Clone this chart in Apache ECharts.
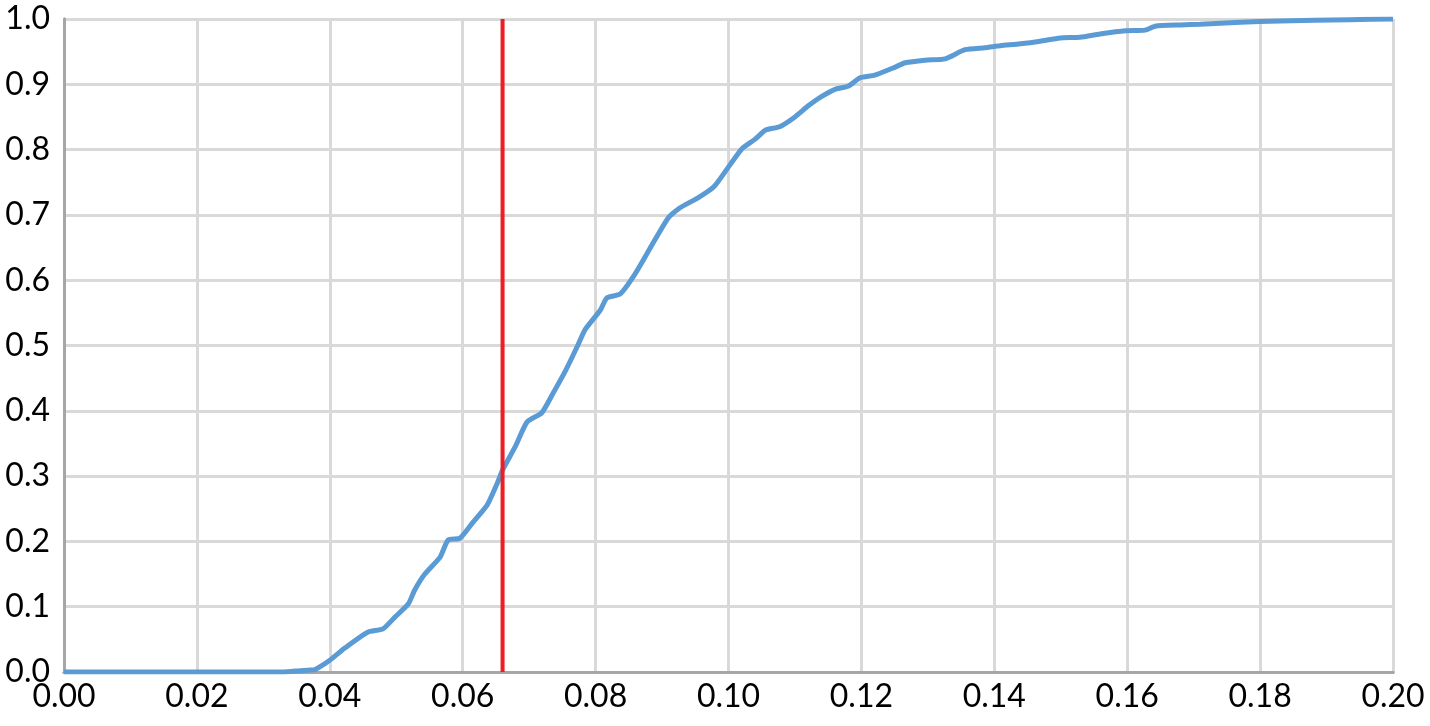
<!DOCTYPE html>
<html>
<head>
<meta charset="utf-8">
<script src="https://cdn.jsdelivr.net/npm/echarts@6/dist/echarts.min.js"></script>
<style>
html, body { margin: 0; padding: 0; background: #fff; }
#main { width: 1430px; height: 726px; }
</style>
</head>
<body>
<div id="main"></div>
<script>
// curve
var xVals = [0, 0.02, 0.033, 0.0355, 0.037, 0.0378, 0.040, 0.0423, 0.0457, 0.048, 0.0498,
    0.0518, 0.0528, 0.0543, 0.0566, 0.0578, 0.0596, 0.0616, 0.0637, 0.0652, 0.066, 0.0679,
    0.0697, 0.0719, 0.0736, 0.0755, 0.0774, 0.0784, 0.0807, 0.0817, 0.0837, 0.0859, 0.0882,
    0.0909, 0.0927, 0.0954, 0.0978, 0.0999, 0.102, 0.104, 0.1056, 0.1077, 0.110, 0.112,
    0.1138, 0.1162, 0.118, 0.1198, 0.122, 0.125, 0.1266, 0.1296, 0.1326, 0.1356, 0.1386,
    0.1409, 0.1439, 0.1469, 0.1499, 0.1529, 0.1559, 0.1597, 0.1627, 0.1642, 0.168, 0.171,
    0.177, 0.183, 0.1935, 0.2];
var yVals = [0, 0, 0, 0.002, 0.003, 0.004, 0.018, 0.037, 0.061, 0.066, 0.084,
    0.104, 0.126, 0.150, 0.176, 0.202, 0.205, 0.230, 0.256, 0.289, 0.309, 0.345,
    0.383, 0.397, 0.427, 0.462, 0.502, 0.524, 0.554, 0.573, 0.579, 0.609, 0.649,
    0.695, 0.711, 0.726, 0.743, 0.772, 0.801, 0.816, 0.830, 0.835, 0.850, 0.867,
    0.880, 0.893, 0.897, 0.910, 0.914, 0.926, 0.933, 0.937, 0.939, 0.953, 0.956,
    0.959, 0.962, 0.966, 0.971, 0.972, 0.977, 0.982, 0.983, 0.989, 0.991, 0.992,
    0.995, 0.997, 0.999, 1.0];
var markX = 0.066;   // red vertical line

var myChart = echarts.init(document.getElementById('main'));
var lineData = xVals.map(function (x, i) { return [x, yVals[i]]; });

var borderStyle = { show: true, lineStyle: { color: '#a6a6a6', width: 3 } };
var labelFont = { color: '#000', fontFamily: 'Lato', fontSize: 32 };

var option = {
    animation: false,
    grid: { left: 64, right: 37, top: 19, bottom: 54 },
    xAxis: [
        {
            type: 'value', min: 0, max: 0.2, interval: 0.02,
            axisLine: borderStyle,
            axisTick: { show: false },
            axisLabel: Object.assign({ margin: 9, formatter: function (v) { return v.toFixed(2); } }, labelFont),
            splitLine: { show: true, lineStyle: { color: '#d9d9d9', width: 3 } }
        },
        {   // top border
            type: 'value', position: 'top', min: 0, max: 0.2,
            axisLine: borderStyle, axisTick: { show: false }, axisLabel: { show: false }, splitLine: { show: false }
        }
    ],
    yAxis: [
        {
            type: 'value', min: 0, max: 1, interval: 0.1,
            axisLine: borderStyle,
            axisTick: { show: false },
            axisLabel: Object.assign({ margin: 14, formatter: function (v) { return v.toFixed(1); } }, labelFont),
            splitLine: { show: true, lineStyle: { color: '#d9d9d9', width: 3 } }
        },
        {   // right border
            type: 'value', position: 'right', min: 0, max: 1,
            axisLine: borderStyle, axisTick: { show: false }, axisLabel: { show: false }, splitLine: { show: false }
        }
    ],
    series: [
        {
            type: 'line',
            data: lineData,
            symbol: 'none',
            smooth: 0.2,
            lineStyle: { color: '#5b9bd5', width: 5 },
            z: 3
        },
        {
            type: 'line',
            data: [[markX, 0], [markX, 1]],
            symbol: 'none',
            lineStyle: { color: '#ee1c24', width: 4 },
            z: 4
        }
    ]
};

myChart.setOption(option);
</script>
</body>
</html>
